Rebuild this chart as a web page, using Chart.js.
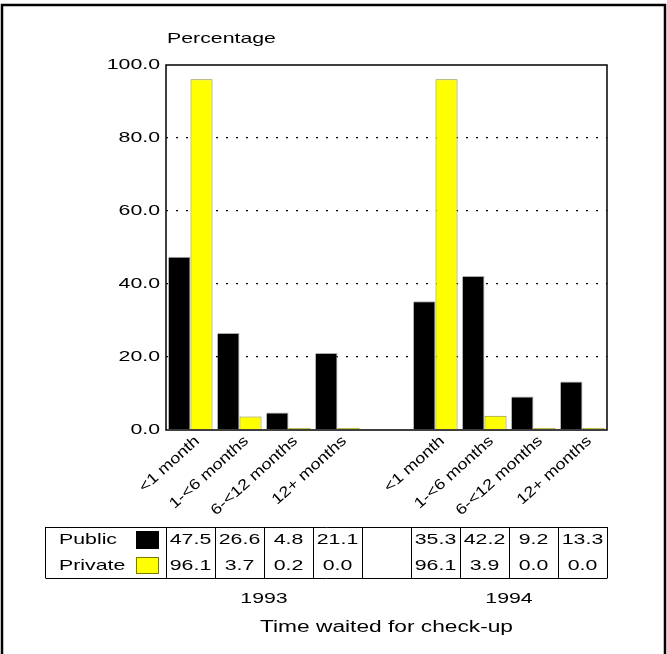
<!DOCTYPE html>
<html>
<head>
<meta charset="utf-8">
<script src="https://cdn.jsdelivr.net/npm/chart.js@4/dist/chart.umd.min.js"></script>
<style>
  html, body { margin: 0; padding: 0; background: #fff; }
  #wrap { width: 667px; height: 654px; }
</style>
</head>
<body>
<div id="wrap"><canvas id="chart" width="667" height="654"></canvas></div>
<script>
const waitCategories = ['<1 month', '1-<6 months', '6-<12 months', '12+ months', '',
  '<1 month', '1-<6 months', '6-<12 months', '12+ months'];
const publicValues = [47.5, 26.6, 4.8, 21.1, null, 35.3, 42.2, 9.2, 13.3];
const privateValues = [96.1, 3.7, 0.2, 0.0, null, 96.1, 3.9, 0.0, 0.0];
const yearLabels = ['1993', '1994'];
const yearGroups = [[0, 1, 2, 3], [5, 6, 7, 8]];
const seriesNames = ['Public', 'Private'];

const FAMILY = '"Liberation Sans", Arial, sans-serif';

// SAS-style wide text: scale glyphs horizontally
function wideText(ctx, text, x, y, align, angle, size, stretch) {
  ctx.save();
  ctx.translate(x, y);
  if (angle) ctx.rotate(angle);
  ctx.scale(stretch || 1.42, 1);
  ctx.font = (size || 15) + 'px ' + FAMILY;
  ctx.fillStyle = '#000';
  ctx.textAlign = align;
  ctx.textBaseline = 'middle';
  ctx.fillText(text, 0, 0);
  ctx.restore();
}

const decorPlugin = {
  id: 'decor',
  afterDraw(chart) {
    const { ctx, chartArea: area, scales } = chart;
    const xs = scales.x;
    const ys = scales.y;
    const slot = xs.width / waitCategories.length;

    // plot frame
    ctx.save();
    ctx.strokeStyle = '#000';
    ctx.lineWidth = 1.5;
    ctx.strokeRect(area.left, area.top, area.right - area.left, area.bottom - area.top);
    // outer frame
    ctx.lineWidth = 2.5;
    ctx.beginPath();
    ctx.moveTo(2, 654);
    ctx.lineTo(2, 5);
    ctx.lineTo(665, 5);
    ctx.lineTo(665, 654);
    ctx.stroke();
    ctx.restore();

    wideText(ctx, 'Percentage', 167, 39, 'left');

    ys.ticks.forEach((t) => {
      wideText(ctx, Number(t.value).toFixed(1), 160, ys.getPixelForValue(t.value), 'right');
    });

    waitCategories.forEach((label, i) => {
      if (!label) return;
      const cx = xs.getPixelForValue(i);
      wideText(ctx, label, cx + 7, area.bottom + 9, 'right', -42 * Math.PI / 180, 15, 1.2);
    });

    // data table
    const top = 527;
    const bottom = 578;
    const rowY = [540, 566];
    ctx.save();
    ctx.strokeStyle = '#000';
    ctx.lineWidth = 1;
    ctx.beginPath();
    ctx.moveTo(45.5, top + 0.5);
    ctx.lineTo(xs.right + 0.5, top + 0.5);
    ctx.moveTo(45.5, bottom + 0.5);
    ctx.lineTo(xs.right + 0.5, bottom + 0.5);
    ctx.moveTo(45.5, top);
    ctx.lineTo(45.5, bottom);
    for (let i = 0; i <= waitCategories.length; i++) {
      const x = Math.round(xs.left + i * slot) + 0.5;
      ctx.moveTo(x, top);
      ctx.lineTo(x, bottom);
    }
    ctx.stroke();
    ctx.strokeStyle = '#7a7a00';
    ctx.fillStyle = '#000';
    ctx.fillRect(136, 531, 23, 18);
    ctx.fillStyle = '#ffff00';
    ctx.fillRect(136, 557, 23, 17);
    ctx.strokeRect(136.5, 557.5, 22, 16);
    ctx.restore();

    wideText(ctx, seriesNames[0], 59, rowY[0], 'left');
    wideText(ctx, seriesNames[1], 59, rowY[1], 'left');
    [publicValues, privateValues].forEach((vals, r) => {
      vals.forEach((v, i) => {
        if (v === null) return;
        wideText(ctx, v.toFixed(1), xs.getPixelForValue(i), rowY[r], 'center');
      });
    });

    yearGroups.forEach((grp, k) => {
      const cx = grp.reduce((s, i) => s + xs.getPixelForValue(i), 0) / grp.length;
      wideText(ctx, yearLabels[k], cx, 599, 'center');
    });

    wideText(ctx, 'Time waited for check-up', (area.left + area.right) / 2, 628, 'center', 0, 16);
  }
};

new Chart(document.getElementById('chart'), {
  type: 'bar',
  data: {
    labels: waitCategories,
    datasets: [
      {
        label: seriesNames[0],
        data: publicValues,
        backgroundColor: '#000000',
        borderColor: '#aaaaaa',
        borderWidth: { top: 1, right: 1, left: 0, bottom: 0 },
        borderSkipped: false
      },
      {
        label: seriesNames[1],
        data: privateValues,
        backgroundColor: '#ffff00',
        borderColor: '#8a8a30',
        borderWidth: 1,
        borderSkipped: 'bottom',
        minBarLength: 2
      }
    ]
  },
  plugins: [decorPlugin],
  options: {
    responsive: false,
    animation: false,
    layout: { padding: { top: 65, right: 60, left: 0, bottom: 0 } },
    datasets: { bar: { categoryPercentage: 0.9, barPercentage: 1 } },
    plugins: { legend: { display: false }, tooltip: { enabled: false } },
    scales: {
      x: {
        grid: { display: false },
        border: { display: false },
        ticks: { display: false },
        afterFit: (scale) => { scale.height = 224; }
      },
      y: {
        min: 0,
        max: 100,
        ticks: { display: false, stepSize: 20 },
        border: { display: false, dash: [2, 8] },
        grid: {
          drawTicks: false,
          lineWidth: 1.3,
          color: (c) => (c.tick && (c.tick.value === 0 || c.tick.value === 100) ? 'rgba(0,0,0,0)' : '#000')
        },
        afterFit: (scale) => { scale.width = 166; }
      }
    }
  }
});
</script>
</body>
</html>
